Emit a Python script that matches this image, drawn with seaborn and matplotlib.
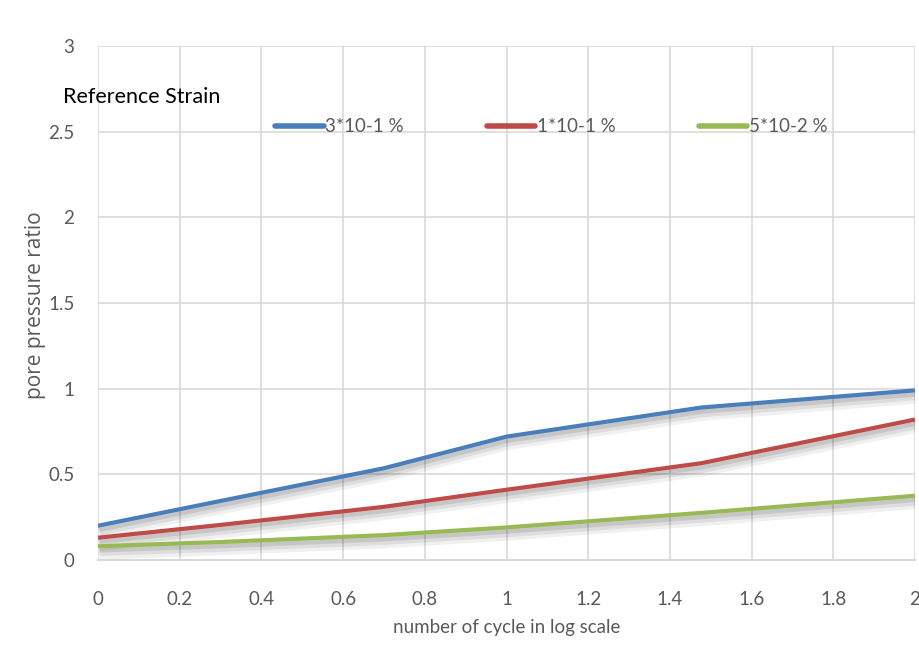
import matplotlib
matplotlib.use("Agg")
import matplotlib.pyplot as plt
import matplotlib.patheffects as pe
import seaborn as sns
import pandas as pd

# Data (log10 of number of cycles vs pore pressure ratio)
log_cycles = [0, 0.301, 0.699, 1, 1.477, 2]
strain_3e_1 = [0.20, 0.345, 0.535, 0.72, 0.89, 0.99]
strain_1e_1 = [0.13, 0.205, 0.31, 0.41, 0.565, 0.82]
strain_5e_2 = [0.08, 0.105, 0.145, 0.19, 0.275, 0.375]
series_names = ["3*10-1 %", "1*10-1 %", "5*10-2 %"]
colors = ["#4a7ebb", "#be4b48", "#98b954"]
x_ticks = [0, 0.2, 0.4, 0.6, 0.8, 1, 1.2, 1.4, 1.6, 1.8, 2]
x_tick_labels = ["0", "0.2", "0.4", "0.6", "0.8", "1", "1.2", "1.4", "1.6", "1.8", "2"]
y_ticks = [0, 0.5, 1, 1.5, 2, 2.5, 3]
y_tick_labels = ["0", "0.5", "1", "1.5", "2", "2.5", "3"]

rows = []
for name, vals in zip(series_names, [strain_3e_1, strain_1e_1, strain_5e_2]):
    for x, y in zip(log_cycles, vals):
        rows.append({"x": x, "y": y, "series": name})
df = pd.DataFrame(rows)

sns.set_theme(style="white")
narrow = ["Lato", "DejaVu Sans"]

fig = plt.figure(figsize=(9.2, 6.48), dpi=100)
ax = fig.add_axes([98/920, 1-560/648, (915-98)/920, (560-46)/648])

sns.lineplot(data=df, x="x", y="y", hue="series", hue_order=series_names,
             palette=colors, linewidth=3, ax=ax, legend=False, sort=False)
for line in ax.lines:
    line.set_path_effects([
        pe.SimpleLineShadow(offset=(1, -5), shadow_color="black", alpha=0.06, linewidth=9),
        pe.SimpleLineShadow(offset=(1, -4), shadow_color="black", alpha=0.08, linewidth=6),
        pe.SimpleLineShadow(offset=(1, -3), shadow_color="black", alpha=0.10, linewidth=3),
        pe.Normal()])
    line.set_solid_capstyle("butt")
    line.set_solid_joinstyle("round")

ax.set_xlim(0, 2)
ax.set_ylim(0, 3)
ax.set_xticks(x_ticks)
ax.set_xticklabels(x_tick_labels, family=narrow, fontsize=13.5, color="#595959")
ax.set_yticks(y_ticks)
ax.set_yticklabels(y_tick_labels, family=narrow, fontsize=13.5, color="#595959")
ax.tick_params(axis="x", pad=22, length=0)
ax.tick_params(axis="y", pad=17, length=0)
ax.grid(True, color="#d9d9d9", linewidth=1.2)
for s in ["top", "left", "right"]:
    ax.spines[s].set_visible(False)
ax.spines["bottom"].set_color("#d9d9d9")
ax.spines["bottom"].set_linewidth(1.5)
ax.set_axisbelow(True)

ax.set_xlabel("number of cycle in log scale", family=narrow, fontsize=13.5, color="#595959", labelpad=8)
ax.set_ylabel("pore pressure ratio", family=["Open Sans", "DejaVu Sans"], fontsize=15,
              color="#595959")
ax.yaxis.set_label_coords((46 - 98) / 817, (560 - 305) / 514)

fig.text(63/920, 1-97/648, "Reference Strain", family=narrow, fontsize=15.5,
         color="black", va="center", ha="left")

handles = [plt.Line2D([], [], color=c, linewidth=4) for c in colors]
fig.legend(handles, series_names, loc="center left", bbox_to_anchor=(258/920, 1-127/648),
           ncol=3, frameon=False, handlelength=2.6, handletextpad=0.1, columnspacing=4.4,
           prop={"family": narrow, "size": 13.5}, labelcolor="#595959")

fig.savefig("out.png", dpi=100)
